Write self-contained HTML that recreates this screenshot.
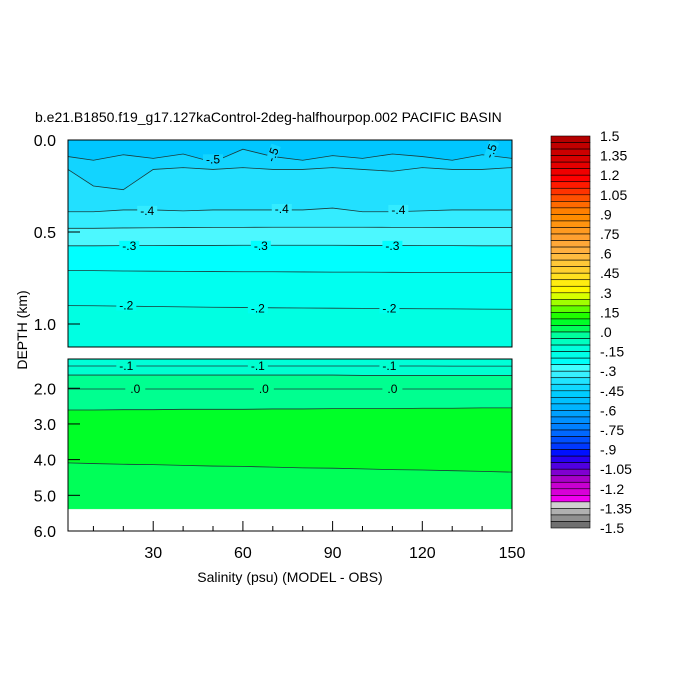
<!DOCTYPE html>
<html><head><meta charset="utf-8"><style>
html,body{margin:0;padding:0;background:#fff;}
svg{display:block;font-family:"Liberation Sans",sans-serif;}
</style></head><body>
<svg id="c" width="700" height="700" xmlns="http://www.w3.org/2000/svg"></svg>
<script>
const xSamples=[1.5,10,20,30,40,50,60,70,80,90,100,110,120,130,140,150];
const topLines=[
 [0.09,0.11,0.08,0.10,0.076,0.12,0.05,0.09,0.11,0.085,0.10,0.076,0.09,0.11,0.08,0.10],
 [0.16,0.25,0.27,0.16,0.15,0.16,0.15,0.16,0.16,0.15,0.16,0.17,0.15,0.16,0.16,0.15],
 [0.39,0.39,0.38,0.38,0.385,0.38,0.38,0.38,0.38,0.37,0.39,0.39,0.385,0.38,0.38,0.38],
 [0.48,0.48,0.478,0.477,0.476,0.475,0.475,0.474,0.474,0.474,0.474,0.475,0.475,0.476,0.476,0.476],
 [0.575,0.575,0.574,0.574,0.573,0.573,0.572,0.572,0.572,0.572,0.573,0.573,0.574,0.574,0.575,0.575],
 [0.71,0.71,0.712,0.713,0.714,0.715,0.716,0.716,0.717,0.718,0.718,0.719,0.72,0.72,0.72,0.72],
 [0.90,0.901,0.903,0.905,0.907,0.909,0.91,0.912,0.913,0.914,0.915,0.916,0.917,0.918,0.919,0.92]];
const topColors=["#00c6ff","#12d4ff","#22e0ff","#34ecff","#4cf8ff","#00ffff","#00fff0","#00ffe2"];
const botLines=[
 [1.376,1.376,1.376,1.376,1.376,1.376,1.376,1.376,1.376,1.376,1.376,1.376,1.376,1.38,1.38,1.38],
 [1.63,1.63,1.63,1.63,1.63,1.63,1.63,1.63,1.63,1.63,1.64,1.64,1.64,1.64,1.64,1.64],
 [2.02,2.02,2.02,2.02,2.02,2.02,2.02,2.02,2.02,2.02,2.02,2.02,2.02,2.02,2.02,2.02],
 [2.61,2.61,2.6,2.6,2.59,2.59,2.59,2.58,2.58,2.57,2.57,2.57,2.56,2.56,2.55,2.55],
 [4.09,4.11,4.13,4.14,4.16,4.18,4.19,4.21,4.23,4.24,4.26,4.28,4.29,4.31,4.33,4.35]];
const botColors=["#00ffd8","#00ffd0","#00ff90","#00ff90","#00ff28","#00ff58"];
const dataBottom=5.38;
const barColors=["#b40000","#c00000","#cc0000","#d80000","#e40000","#f00000","#ff0000","#ff1a00","#ff3300","#ff5000","#ff6a00","#ff8000","#ff8c00","#ff9410","#ff9a20","#ffa030","#ffa838","#ffb040","#ffbc40","#ffc838","#ffd030","#ffe020","#ffec10","#fff800","#d8ff00","#a0ff00","#60ff00","#20ff00","#00ff28","#00ff58","#00ff9c","#00ffc0","#00ffdc","#00ffe8","#00fff8","#40ffff","#38f0ff","#20e4ff","#10d8ff","#00ccff","#00c0ff","#00b4ff","#00a0ff","#0090ff","#0080ff","#0068ff","#0050ff","#0038ff","#0010ff","#2800f0","#5000e0","#8000d0","#a800c8","#c800d0","#d800d8","#f000f0","#d0d0d0","#b0b0b0","#909090","#707070"];
const barLabels=["1.5","1.35","1.2","1.05",".9",".75",".6",".45",".3",".15",".0","-.15","-.3","-.45","-.6","-.75","-.9","-1.05","-1.2","-1.35","-1.5"];
const xTicks=[30,60,90,120,150];
const yTopTicks=[0.0,0.5,1.0];
const yBotTicks=[2.0,3.0,4.0,5.0,6.0];
const topLabels=[["-.5",50,0.105,0,1],["-.5",70,0.08,-70,1],["-.5",143,0.06,-70,1],["-.4",28,0.385,0,3],["-.4",73,0.375,0,3],["-.4",112,0.38,0,3],["-.3",22,0.575,0,5],["-.3",66,0.575,0,5],["-.3",110,0.575,0,5],["-.2",21,0.9,0,6],["-.2",65,0.915,0,6],["-.2",109,0.915,0,6]];
const botLabels=[["-.1",21,1.376,1],["-.1",65,1.376,1],["-.1",109,1.38,1],[".0",24,2.02,3],[".0",67,2.02,3],[".0",110,2.02,3]];

const NS="http://www.w3.org/2000/svg";
const svg=document.getElementById('c');
function mk(t,a,p){const e=document.createElementNS(NS,t);for(const k in a)e.setAttribute(k,a[k]);(p||svg).appendChild(e);return e;}
const X0=68,X1=512,xmin=1.5,xmax=150;
const xs=v=>X0+(v-xmin)/(xmax-xmin)*(X1-X0);
const TY0=140,TY1=347,tdmin=0,tdmax=1.125;
const ty=d=>TY0+(d-tdmin)/(tdmax-tdmin)*(TY1-TY0);
const BY0=359,BY1=531,bdmin=1.18,bdmax=6.0;
const by=d=>BY0+(d-bdmin)/(bdmax-bdmin)*(BY1-BY0);

function band(upper,lower,yf,color,name){
  let pts=[];
  xSamples.forEach((x,i)=>pts.push(xs(x)+","+yf(upper[i])));
  for(let i=xSamples.length-1;i>=0;i--)pts.push(xs(xSamples[i])+","+yf(lower[i]));
  const p=mk('polygon',{points:pts.join(' '),fill:color,stroke:color,'stroke-width':0.5});
  
  
}
function line(arr,yf,name){
  const p=mk('polyline',{points:xSamples.map((x,i)=>xs(x)+","+yf(arr[i])).join(' '),fill:'none',stroke:'#1a3a3a','stroke-width':0.8});
  
  
}
function label(txt,x,y,rot,bg){
  mk('rect',{x:x-10,y:y-5,width:20,height:10,fill:bg,transform:`rotate(${rot} ${x} ${y})`});
  const t=mk('text',{x:x,y:y+4,'font-size':12,'text-anchor':'middle',transform:`rotate(${rot} ${x} ${y})`});
  t.textContent=txt;
  
  
}
// top panel
const topB=[xSamples.map(()=>tdmin),...topLines,xSamples.map(()=>tdmax)];
for(let i=0;i<topB.length-1;i++)band(topB[i],topB[i+1],ty,topColors[i],'top-band');
topLines.forEach(l=>line(l,ty,'top-contour'));
topLabels.forEach(l=>label(l[0],xs(l[1]),ty(l[2]),l[3],topColors[l[4]]));
// bottom panel
const botB=[xSamples.map(()=>bdmin),...botLines,xSamples.map(()=>dataBottom)];
for(let i=0;i<botB.length-1;i++)band(botB[i],botB[i+1],by,botColors[i],'bottom-band');
botLines.forEach(l=>line(l,by,'bottom-contour'));
botLabels.forEach(l=>label(l[0],xs(l[1]),by(l[2]),0,botColors[l[3]]));
// frames
const f1=mk('rect',{x:X0,y:TY0,width:X1-X0,height:TY1-TY0,fill:'none',stroke:'#000','stroke-width':1});

const f2=mk('rect',{x:X0,y:BY0,width:X1-X0,height:BY1-BY0,fill:'none',stroke:'#000','stroke-width':1});

// y ticks
yTopTicks.forEach(v=>{const y=ty(v);mk('line',{x1:X0,x2:X0+12,y1:y,y2:y,stroke:'#000'});
  const t=mk('text',{x:X0-12,y:y+6,'font-size':16,'text-anchor':'end'});t.textContent=v.toFixed(1);
  });
yBotTicks.forEach(v=>{const y=by(v);mk('line',{x1:X0,x2:X0+12,y1:y,y2:y,stroke:'#000'});
  const t=mk('text',{x:X0-12,y:y+6,'font-size':16,'text-anchor':'end'});t.textContent=v.toFixed(1);
  });
// x ticks
for(let v=10;v<=150;v+=10){const x=xs(v);const L=(v%30===0)?10:5;mk('line',{x1:x,x2:x,y1:BY1,y2:BY1-L,stroke:'#000'});}
xTicks.forEach(v=>{const t=mk('text',{x:xs(v),y:558,'font-size':16,'text-anchor':'middle'});t.textContent=v;
  });
// titles
let t=mk('text',{x:290,y:582,'font-size':14,'text-anchor':'middle'});t.textContent='Salinity (psu) (MODEL - OBS)';

t=mk('text',{x:0,y:0,'font-size':14,'text-anchor':'middle',transform:'translate(27,330) rotate(-90)'});t.textContent='DEPTH (km)';

t=mk('text',{x:35,y:122,'font-size':14});t.textContent='b.e21.B1850.f19_g17.127kaControl-2deg-halfhourpop.002 PACIFIC BASIN';

// colorbar
const CB0=136,CB1=528,CX=551,CW=39,bh=(CB1-CB0)/barColors.length;
barColors.forEach((c,i)=>{const r=mk('rect',{x:CX,y:CB0+i*bh,width:CW,height:bh,fill:c,stroke:'#000','stroke-width':0.6});
  });
barLabels.forEach((l,i)=>{const y=CB0+i*3*bh;const tt=mk('text',{x:600,y:y+5,'font-size':14});tt.textContent=l;
  });
</script>
</body></html>
